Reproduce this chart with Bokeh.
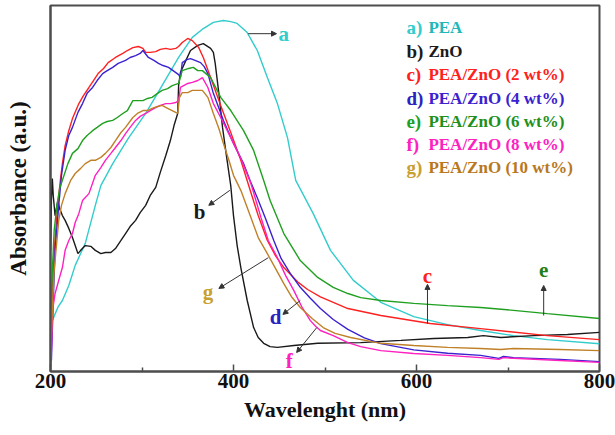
from bokeh.plotting import figure
from bokeh.models import Range1d, FixedTicker, Arrow, NormalHead
from bokeh.core.properties import value
from bokeh.embed import file_html
from bokeh.resources import INLINE

# UV-vis absorption spectra (wavelength in nm, absorbance in a.u.)
pea_wl = [202, 208, 213, 220, 227, 238, 249, 255, 268, 285, 304, 320, 340, 355, 367, 378, 389, 397, 404, 415, 426, 437, 448, 459, 468, 487, 506, 531, 561, 597, 634, 670, 706, 743, 800]
pea_ab = [0.139, 0.175, 0.194, 0.235, 0.290, 0.350, 0.454, 0.508, 0.568, 0.637, 0.705, 0.773, 0.858, 0.913, 0.937, 0.954, 0.959, 0.956, 0.951, 0.926, 0.877, 0.803, 0.732, 0.639, 0.522, 0.432, 0.331, 0.249, 0.189, 0.150, 0.128, 0.112, 0.098, 0.087, 0.076]

zno_wl = [200, 201, 202, 203, 205, 208, 210, 213, 216, 220, 224, 227, 230, 233, 238, 244, 249, 255, 260, 266, 271, 277, 282, 287, 293, 298, 304, 309, 315, 320, 326, 331, 335, 339, 340, 342, 348, 353, 361, 367, 375, 378, 380, 384, 388, 393, 397, 400, 404, 408, 415, 422, 427, 433, 440, 448, 466, 492, 539, 583, 619, 656, 673, 692, 728, 765, 800]
zno_ab = [0.331, 0.467, 0.527, 0.481, 0.426, 0.467, 0.445, 0.426, 0.413, 0.391, 0.366, 0.344, 0.322, 0.331, 0.344, 0.342, 0.331, 0.322, 0.325, 0.325, 0.336, 0.358, 0.377, 0.396, 0.413, 0.434, 0.454, 0.481, 0.503, 0.544, 0.590, 0.631, 0.672, 0.705, 0.781, 0.817, 0.850, 0.877, 0.891, 0.896, 0.883, 0.872, 0.842, 0.760, 0.667, 0.577, 0.508, 0.426, 0.344, 0.284, 0.194, 0.120, 0.093, 0.077, 0.068, 0.066, 0.071, 0.077, 0.079, 0.085, 0.090, 0.093, 0.098, 0.093, 0.098, 0.101, 0.107]

c2_wl = [200, 201, 202, 204, 207, 209, 211, 213, 216, 220, 224, 231, 236, 242, 247, 252, 258, 263, 271, 279, 284, 290, 296, 301, 304, 309, 315, 320, 326, 331, 337, 340, 344, 350, 355, 362, 367, 375, 386, 397, 408, 419, 427, 437, 446, 455, 470, 481, 495, 525, 561, 615, 670, 743, 800]
c2_ab = [0.016, 0.085, 0.221, 0.331, 0.426, 0.481, 0.527, 0.568, 0.617, 0.658, 0.691, 0.732, 0.754, 0.776, 0.795, 0.814, 0.828, 0.844, 0.858, 0.869, 0.877, 0.885, 0.888, 0.883, 0.872, 0.872, 0.874, 0.880, 0.883, 0.880, 0.883, 0.888, 0.899, 0.910, 0.904, 0.885, 0.858, 0.803, 0.727, 0.653, 0.577, 0.489, 0.426, 0.358, 0.316, 0.284, 0.245, 0.224, 0.204, 0.172, 0.153, 0.131, 0.117, 0.098, 0.087]

c4_wl = [201, 203, 205, 209, 212, 216, 220, 224, 230, 235, 240, 246, 251, 257, 262, 268, 274, 282, 287, 293, 298, 301, 307, 313, 318, 323, 329, 334, 340, 342, 344, 349, 353, 358, 364, 368, 372, 378, 389, 400, 411, 419, 426, 435, 444, 452, 462, 473, 484, 495, 509, 525, 543, 561, 597, 634, 670, 690, 695, 706, 757, 800]
c4_ab = [0.030, 0.194, 0.331, 0.454, 0.536, 0.604, 0.645, 0.667, 0.708, 0.732, 0.760, 0.776, 0.795, 0.814, 0.822, 0.831, 0.842, 0.850, 0.858, 0.863, 0.869, 0.877, 0.858, 0.850, 0.842, 0.836, 0.831, 0.822, 0.811, 0.803, 0.844, 0.852, 0.855, 0.850, 0.844, 0.833, 0.814, 0.760, 0.686, 0.623, 0.568, 0.516, 0.475, 0.418, 0.358, 0.309, 0.268, 0.230, 0.200, 0.172, 0.142, 0.115, 0.092, 0.076, 0.059, 0.050, 0.044, 0.036, 0.041, 0.038, 0.033, 0.027]

c6_wl = [200, 202, 204, 207, 210, 214, 219, 224, 230, 235, 240, 246, 251, 257, 262, 268, 273, 279, 284, 290, 295, 301, 306, 311, 317, 322, 328, 333, 340, 344, 351, 356, 361, 366, 375, 386, 397, 411, 422, 433, 440, 455, 473, 492, 509, 525, 539, 561, 597, 634, 670, 706, 743, 800]
c6_ab = [0.085, 0.276, 0.385, 0.454, 0.500, 0.530, 0.568, 0.596, 0.609, 0.631, 0.645, 0.658, 0.667, 0.678, 0.683, 0.686, 0.694, 0.705, 0.713, 0.740, 0.740, 0.740, 0.746, 0.749, 0.760, 0.768, 0.773, 0.781, 0.787, 0.822, 0.828, 0.831, 0.822, 0.822, 0.803, 0.749, 0.713, 0.658, 0.604, 0.522, 0.467, 0.377, 0.303, 0.257, 0.230, 0.213, 0.202, 0.194, 0.186, 0.180, 0.175, 0.167, 0.158, 0.145]

c8_wl = [200, 201, 202, 203, 205, 209, 213, 216, 220, 224, 227, 231, 235, 242, 249, 255, 260, 266, 271, 277, 282, 287, 293, 298, 304, 309, 315, 320, 326, 331, 337, 340, 342, 350, 355, 361, 366, 372, 378, 386, 397, 408, 419, 430, 438, 448, 457, 466, 475, 484, 490, 495, 509, 525, 539, 561, 597, 634, 670, 690, 695, 706, 757, 800]
c8_ab = [0.008, 0.057, 0.139, 0.180, 0.213, 0.249, 0.284, 0.331, 0.358, 0.377, 0.407, 0.432, 0.467, 0.486, 0.536, 0.557, 0.577, 0.596, 0.612, 0.631, 0.650, 0.667, 0.686, 0.697, 0.705, 0.713, 0.721, 0.727, 0.732, 0.732, 0.735, 0.740, 0.776, 0.787, 0.790, 0.795, 0.803, 0.776, 0.732, 0.694, 0.639, 0.582, 0.514, 0.421, 0.358, 0.311, 0.262, 0.221, 0.175, 0.139, 0.123, 0.112, 0.098, 0.079, 0.068, 0.057, 0.049, 0.044, 0.038, 0.033, 0.038, 0.036, 0.030, 0.025]

c10_wl = [200, 202, 204, 207, 209, 212, 216, 222, 227, 233, 238, 244, 249, 255, 260, 266, 271, 277, 282, 290, 295, 301, 306, 311, 317, 322, 328, 333, 339, 341, 344, 350, 355, 361, 366, 372, 378, 384, 389, 395, 400, 408, 419, 427, 437, 446, 455, 464, 473, 486, 498, 511, 528, 561, 597, 634, 670, 692, 706, 757, 800]
c10_ab = [0.030, 0.167, 0.276, 0.358, 0.413, 0.454, 0.486, 0.522, 0.541, 0.555, 0.568, 0.577, 0.577, 0.585, 0.596, 0.612, 0.631, 0.653, 0.667, 0.694, 0.705, 0.713, 0.713, 0.719, 0.724, 0.727, 0.719, 0.713, 0.705, 0.749, 0.762, 0.762, 0.768, 0.768, 0.768, 0.749, 0.705, 0.664, 0.623, 0.577, 0.536, 0.495, 0.421, 0.366, 0.322, 0.281, 0.240, 0.202, 0.175, 0.145, 0.120, 0.104, 0.093, 0.077, 0.071, 0.066, 0.063, 0.060, 0.063, 0.060, 0.057]

series_wl = [pea_wl, zno_wl, c2_wl, c4_wl, c6_wl, c8_wl, c10_wl]
series_ab = [pea_ab, zno_ab, c2_ab, c4_ab, c6_ab, c8_ab, c10_ab]
series_colors = ["#33cccc", "#1a1a1a", "#ff2020", "#3a22d0", "#20a020", "#ff20c0", "#c08028"]

legend_tags = ["a)", "b)", "c)", "d)", "e)", "f)", "g)"]
legend_names = ["PEA", "ZnO", "PEA/ZnO (2 wt%)", "PEA/ZnO (4 wt%)", "PEA/ZnO (6 wt%)", "PEA/ZnO (8 wt%)", "PEA/ZnO (10 wt%)"]
legend_y = [0.940, 0.874, 0.811, 0.746, 0.683, 0.620, 0.557]
tag_colors = ["#33cccc", "#1a1a1a", "#ff2020", "#2a22c0", "#20a020", "#ff20c0", "#c8a030"]
name_colors = ["#20b8b8", "#1a1a1a", "#ff2020", "#3a22d0", "#209020", "#ff20c0", "#b87820"]

# curve letters and the arrows that tie them to their curves
letters = ["a", "b", "c", "d", "e", "f", "g"]
letter_x = [455, 363, 612, 446, 739, 461, 372]
letter_y = [0.923, 0.437, 0.262, 0.150, 0.276, 0.030, 0.216]
letter_colors = ["#33cccc", "#1a1a1a", "#ff2020", "#2a22c0", "#208020", "#ff20c0", "#c8a030"]
arrow_x0 = [416, 396, 612, 473, 739, 491, 438]
arrow_y0 = [0.923, 0.495, 0.131, 0.194, 0.153, 0.120, 0.311]
arrow_x1 = [447, 373, 612, 454, 739, 469, 384]
arrow_y1 = [0.923, 0.454, 0.238, 0.156, 0.235, 0.052, 0.227]

FONT = "Liberation Serif"
FRAME = "#4d4d4d"

p = figure(width=615, height=435, output_backend="svg", toolbar_location=None,
           x_range=Range1d(200, 800), y_range=Range1d(0, 1),
           min_border_left=50, min_border_right=16, min_border_top=5, min_border_bottom=64)
p.grid.visible = False
p.outline_line_color = FRAME
p.outline_line_width = 2
p.outline_line_alpha = 1

xa = p.xaxis[0]
xa.ticker = FixedTicker(ticks=[200, 400, 600, 800], minor_ticks=[300, 500, 700])
xa.axis_line_color = FRAME
xa.axis_line_width = 2
xa.major_tick_in = 7
xa.major_tick_out = 0
xa.minor_tick_in = 4
xa.minor_tick_out = 0
xa.major_tick_line_color = FRAME
xa.minor_tick_line_color = FRAME
xa.major_tick_line_width = 1.5
xa.minor_tick_line_width = 1.5
xa.major_label_text_font = FONT
xa.major_label_text_font_style = "bold"
xa.major_label_text_font_size = "21px"
xa.major_label_text_color = "#111111"
xa.major_label_standoff = 2
xa.axis_label = "Wavelenght (nm)"
xa.axis_label_text_font = FONT
xa.axis_label_text_font_style = "bold"
xa.axis_label_text_font_size = "22px"
xa.axis_label_text_color = "#111111"
xa.axis_label_standoff = 6

ya = p.yaxis[0]
ya.axis_line_color = FRAME
ya.axis_line_width = 2
ya.major_tick_line_color = None
ya.minor_tick_line_color = None
ya.major_label_text_font_size = "0px"
ya.axis_label = "Absorbance (a.u.)"
ya.axis_label_text_font = FONT
ya.axis_label_text_font_style = "bold"
ya.axis_label_text_font_size = "23px"
ya.axis_label_text_color = "#111111"
ya.axis_label_standoff = 14

for wl, ab, col in zip(series_wl, series_ab, series_colors):
    p.line(wl, ab, line_color=col, line_width=1.4)

for x0, y0, x1, y1 in zip(arrow_x0, arrow_y0, arrow_x1, arrow_y1):
    p.add_layout(Arrow(x_start=x0, y_start=y0, x_end=x1, y_end=y1,
                       line_color="#333333", line_width=1,
                       end=NormalHead(size=5, fill_color="#333333", line_color="#333333")))

p.text(x=letter_x, y=letter_y, text=letters, text_color=letter_colors,
       text_font=value(FONT), text_font_style="bold", text_font_size="21px",
       text_align="center", text_baseline="middle")

tag_x = [589] * len(legend_tags)
name_x = [613] * len(legend_names)
p.text(x=tag_x, y=legend_y, text=legend_tags, text_color=tag_colors,
       text_font=value(FONT), text_font_style="bold", text_font_size="19px",
       text_align="left", text_baseline="middle")
p.text(x=name_x, y=legend_y, text=legend_names, text_color=name_colors,
       text_font=value(FONT), text_font_style="bold", text_font_size="17px",
       text_align="left", text_baseline="middle")

open("out.html", "w").write(file_html(p, INLINE))
